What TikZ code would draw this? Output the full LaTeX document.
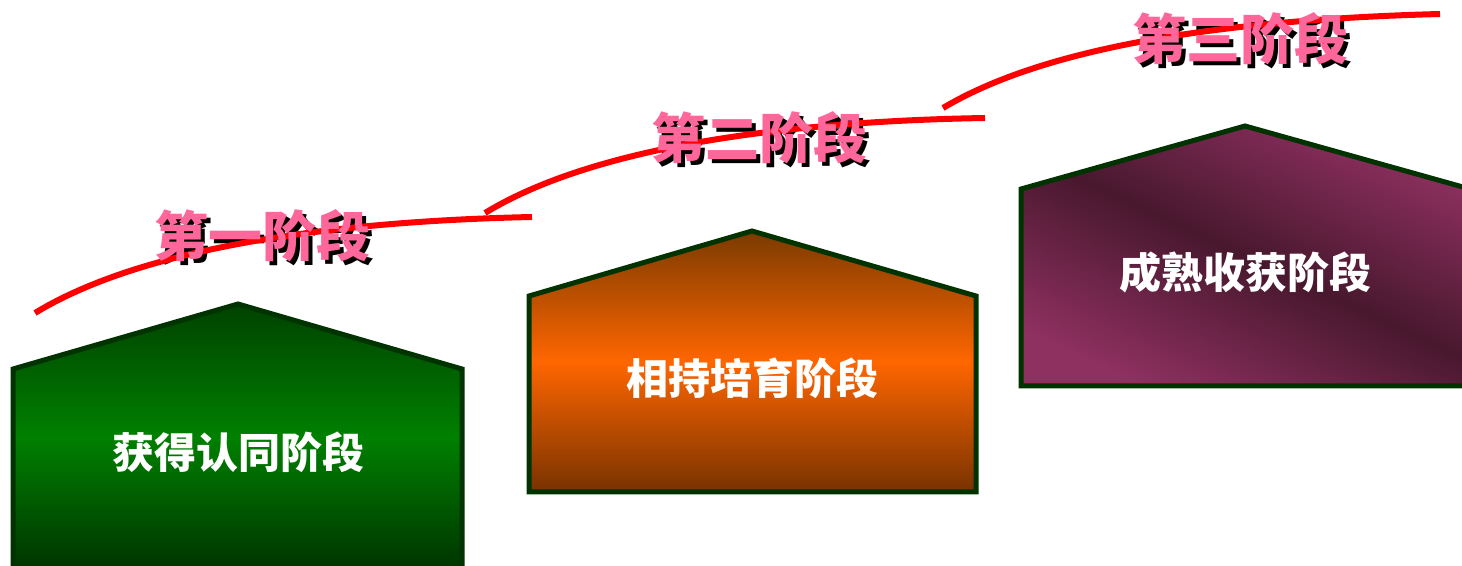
\documentclass[tikz,border=0pt]{standalone}
\usepackage{fontspec}
\newfontfamily\cjk{Noto Sans CJK SC}
\definecolor{boxline}{RGB}{0,51,0}
\definecolor{gdark}{RGB}{0,66,0}
\definecolor{gmid}{RGB}{0,128,0}
\definecolor{gbot}{RGB}{0,52,0}
\definecolor{obrown}{RGB}{122,58,0}
\definecolor{omid}{RGB}{255,102,0}
\definecolor{obot}{RGB}{120,50,0}
\definecolor{plight}{RGB}{142,48,96}
\definecolor{pdark}{RGB}{72,24,46}
\definecolor{lblpink}{RGB}{255,102,153}
\tikzset{
  house/.style={draw=boxline, line width=5pt, line join=miter},
  boxtext/.style={text=white, font=\cjk\bfseries\fontsize{42}{42}\selectfont, inner sep=0pt},
  lblshadow/.style={text=black, font=\cjk\bfseries\fontsize{54}{54}\selectfont, inner sep=0pt},
  lbltext/.style={text=lblpink, font=\cjk\bfseries\fontsize{54}{54}\selectfont, inner sep=0pt},
  curve/.style={draw=red, line width=6pt}
}
\begin{document}
\begin{tikzpicture}[x=1pt,y=1pt]
\useasboundingbox (0,0) rectangle (1462,565);
\clip (0,0) rectangle (1462,565);
% houses
\path[house, top color=gdark, bottom color=gbot, middle color=gmid]
  (13,196) -- (238,261) -- (462,196) -- (462,-5) -- (13,-5) -- cycle;
\path[house, top color=obrown, bottom color=obot, middle color=omid]
  (529,269) -- (752,334) -- (976,269) -- (976,73) -- (529,73) -- cycle;
\path[house, top color=plight, bottom color=plight, middle color=pdark, shading angle=-25]
  (1021,376) -- (1245,439) -- (1470,376) -- (1470,179) -- (1021,179) -- cycle;
\node[boxtext] (t1) at (238,113) {获得认同阶段};
\node[boxtext] (t2) at (752,187) {相持培育阶段};
\node[boxtext] (t3) at (1245,292) {成熟收获阶段};
% label shadows
\node[lblshadow] (s1) at (266,325) {第一阶段};
\node[lblshadow] (s2) at (763,423) {第二阶段};
\node[lblshadow] (s3) at (1244,522) {第三阶段};
% curves
\coordinate (c1a) at (35,252); \coordinate (c1b) at (532,348);
\coordinate (c2a) at (485,352); \coordinate (c2b) at (985,447);
\coordinate (c3a) at (943,457); \coordinate (c3b) at (1440,551);
\draw[curve] (c1a) .. controls (130,310) and (300,343) .. (c1b);
\draw[curve] (c2a) .. controls (580,410) and (750,443) .. (c2b);
\draw[curve] (c3a) .. controls (1040,515) and (1210,545) .. (c3b);
% labels
\node[lbltext] (l1) at (262,329) {第一阶段};
\node[lbltext] (l2) at (759,427) {第二阶段};
\node[lbltext] (l3) at (1240,526) {第三阶段};
\end{tikzpicture}
\end{document}
